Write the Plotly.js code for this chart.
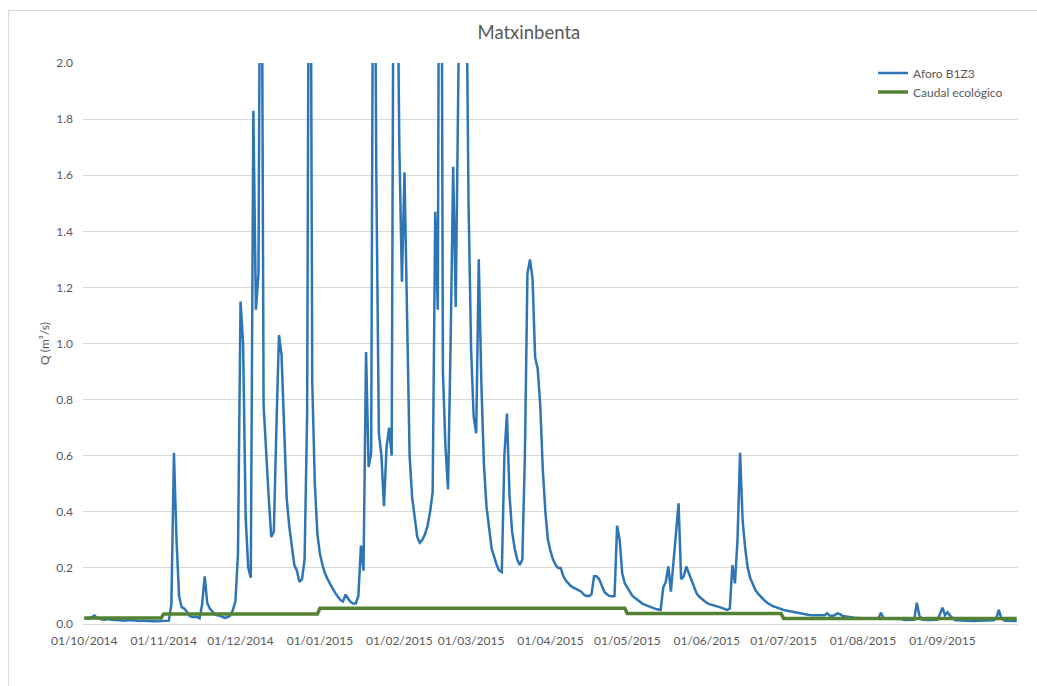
<!DOCTYPE html>
<html><head><meta charset="utf-8">
<script src="https://cdn.plot.ly/plotly-3.0.1.min.js"></script>
<style>
html,body{margin:0;padding:0;background:#fff;overflow:hidden}
#wrap{position:relative;width:1037px;height:686px;overflow:hidden}
#chart{width:1037px;height:686px}
#frame{position:absolute;left:8px;top:10px;width:1040px;height:690px;border:1px solid #d9d9d9;pointer-events:none}
</style></head><body>
<div id="wrap"><div id="chart"></div><div id="frame"></div></div>
<script>
const chartTitle = 'Matxinbenta';
const yTitle = 'Q (m³/s)';
const seriesFlow = 'Aforo B1Z3';
const seriesEco = 'Caudal ecológico';
const startDate = '2014-10-01';

// daily flow (m3/s), one array per month
const oct14 = [0.02,0.02,0.02,0.025,0.03,0.022,0.018,0.016,0.015,0.018,0.016,0.015,0.014,0.015,0.014,0.013,0.012,0.014,0.013,0.012,0.012,0.011,0.011,0.012,0.011,0.01,0.01,0.01,0.01,0.01,0.01];
const nov14 = [0.01,0.01,0.012,0.07,0.61,0.3,0.1,0.06,0.055,0.045,0.03,0.025,0.025,0.025,0.02,0.07,0.17,0.075,0.055,0.045,0.035,0.03,0.03,0.025,0.022,0.025,0.03,0.05,0.08,0.25];
const dec14 = [1.15,1.0,0.38,0.2,0.165,1.83,1.12,1.25,3.2,0.78,0.6,0.45,0.31,0.33,0.7,1.03,0.96,0.7,0.45,0.35,0.27,0.21,0.19,0.15,0.16,0.23,0.75,3.5,0.86,0.5,0.32];
const jan15 = [0.25,0.21,0.18,0.16,0.14,0.125,0.11,0.095,0.085,0.08,0.105,0.09,0.078,0.073,0.073,0.1,0.28,0.19,0.97,0.56,0.61,3.2,1.6,0.68,0.6,0.42,0.63,0.7,0.6,3.2,2.6];
const feb15 = [1.7,1.22,1.61,1.12,0.6,0.45,0.37,0.31,0.29,0.3,0.32,0.35,0.4,0.47,1.47,1.12,4.0,0.9,0.63,0.48,1.0,1.63,1.13,3.5,3.5,3.5,2.5,1.5];
const mar15 = [0.98,0.74,0.68,1.3,0.86,0.57,0.42,0.35,0.27,0.24,0.21,0.19,0.185,0.6,0.75,0.46,0.33,0.27,0.23,0.21,0.23,0.6,1.25,1.3,1.23,0.95,0.91,0.78,0.55,0.4,0.3];
const apr15 = [0.26,0.23,0.21,0.2,0.2,0.17,0.155,0.145,0.135,0.13,0.125,0.12,0.115,0.105,0.1,0.1,0.105,0.17,0.17,0.16,0.14,0.115,0.106,0.1,0.098,0.1,0.35,0.3,0.18,0.145];
const may15 = [0.13,0.115,0.1,0.093,0.085,0.077,0.072,0.068,0.064,0.06,0.057,0.054,0.052,0.05,0.13,0.15,0.205,0.115,0.22,0.32,0.43,0.16,0.17,0.205,0.18,0.155,0.13,0.11,0.098,0.09,0.08];
const jun15 = [0.075,0.071,0.069,0.067,0.063,0.06,0.056,0.053,0.05,0.055,0.21,0.145,0.3,0.61,0.37,0.27,0.2,0.163,0.14,0.121,0.108,0.098,0.088,0.08,0.073,0.067,0.063,0.06,0.056,0.053];
const jul15 = [0.05,0.048,0.046,0.044,0.042,0.04,0.038,0.037,0.035,0.032,0.032,0.031,0.031,0.031,0.03,0.03,0.031,0.038,0.03,0.029,0.032,0.038,0.035,0.029,0.027,0.026,0.025,0.023,0.022,0.021,0.02];
const aug15 = [0.02,0.02,0.019,0.019,0.019,0.019,0.02,0.04,0.02,0.019,0.019,0.019,0.019,0.018,0.018,0.018,0.014,0.014,0.014,0.014,0.015,0.076,0.03,0.016,0.014,0.014,0.014,0.014,0.014,0.015,0.035];
const sep15 = [0.058,0.032,0.042,0.03,0.02,0.013,0.013,0.012,0.012,0.012,0.012,0.011,0.011,0.011,0.012,0.012,0.011,0.011,0.012,0.012,0.013,0.02,0.05,0.02,0.013,0.012,0.012,0.011,0.011,0.011];

// ecological flow (step changes)
const ecoDates = ['2014-10-01','2014-10-31','2014-11-01','2014-12-31','2015-01-01','2015-04-30','2015-05-01','2015-06-30','2015-07-01','2015-09-30'];
const ecoValues = [0.021,0.021,0.036,0.036,0.056,0.056,0.037,0.037,0.02,0.02];

// x tick labels
const tickDates = ['2014-10-01','2014-11-01','2014-12-01','2015-01-01','2015-02-01','2015-03-01','2015-04-01','2015-05-01','2015-06-01','2015-07-01','2015-08-01','2015-09-01'];
const tickLabels = ['01/10/2014','01/11/2014','01/12/2014','01/01/2015','01/02/2015','01/03/2015','01/04/2015','01/05/2015','01/06/2015','01/07/2015','01/08/2015','01/09/2015'];

const flow = [].concat(oct14,nov14,dec14,jan15,feb15,mar15,apr15,may15,jun15,jul15,aug15,sep15);
const flowDates = flow.map((v,i)=>{
  const d = new Date(startDate+'T00:00:00Z');
  d.setUTCDate(d.getUTCDate()+i);
  return d.toISOString().slice(0,10);
});

const FONT = 'Lato, "Open Sans", sans-serif';
const GREY = '#595959';

const traces = [
  {x:flowDates, y:flow, type:'scatter', mode:'lines', name:seriesFlow,
   line:{color:'#2e75b6', width:2.5}, hoverinfo:'skip'},
  {x:ecoDates, y:ecoValues, type:'scatter', mode:'lines', name:seriesEco,
   line:{color:'#548235', width:3.5}, hoverinfo:'skip'}
];

const layout = {
  width:1037, height:686,
  margin:{l:83, r:19, t:63, b:62},
  paper_bgcolor:'#ffffff', plot_bgcolor:'#ffffff',
  title:{text:chartTitle, font:{family:FONT, size:18.5, color:GREY},
    xref:'container', x:0.51, xanchor:'center', yref:'container', y:1-33/686, yanchor:'middle'},
  showlegend:true,
  legend:{x:0.845, xanchor:'left', y:1.008, yanchor:'top',
    font:{family:FONT, size:12, color:GREY}, bgcolor:'rgba(0,0,0,0)', tracegroupgap:0, itemwidth:30},
  xaxis:{type:'date', range:['2014-09-30 12:00','2015-09-30 12:00'],
    tickmode:'array', tickvals:tickDates, ticktext:tickLabels,
    showgrid:false, showline:true, linecolor:'#d9d9d9', linewidth:1, ticks:'',
    tickfont:{family:FONT, size:12, color:GREY}, ticklabelstandoff:6, zeroline:false, fixedrange:true},
  yaxis:{range:[0,2], tick0:0, dtick:0.2, tickformat:'.1f',
    showgrid:true, gridcolor:'#d9d9d9', gridwidth:1, zeroline:false, showline:false, ticks:'',
    tickfont:{family:FONT, size:12, color:GREY}, ticklabelstandoff:9,
    title:{text:yTitle, font:{family:FONT, size:12, color:GREY}, standoff:4}, fixedrange:true}
};

Plotly.newPlot('chart', traces, layout, {staticPlot:true, displayModeBar:false});
</script>
</body></html>
